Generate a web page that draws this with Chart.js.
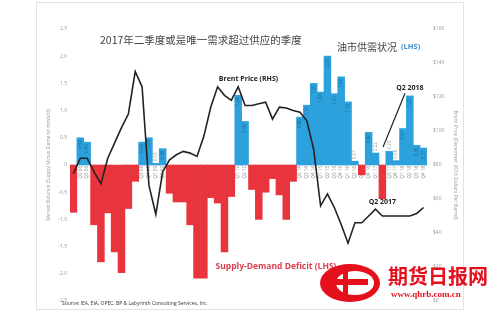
<!DOCTYPE html>
<html>
<head>
<meta charset="utf-8">
<script src="https://cdn.jsdelivr.net/npm/chart.js@4.4.1/dist/chart.umd.min.js"></script>
<style>
  html, body { margin: 0; padding: 0; background: #fff; }
  #wrap { width: 500px; height: 312px; }
</style>
</head>
<body>
<div id="wrap"><canvas id="chart" width="500" height="312"></canvas></div>
<script>
// quarters Q1 2006 .. Q4 2018
var quarters = [
  'Q1 06','Q2 06','Q3 06','Q4 06','Q1 07','Q2 07','Q3 07','Q4 07',
  'Q1 08','Q2 08','Q3 08','Q4 08','Q1 09','Q2 09','Q3 09','Q4 09',
  'Q1 10','Q2 10','Q3 10','Q4 10','Q1 11','Q2 11','Q3 11','Q4 11',
  'Q1 12','Q2 12','Q3 12','Q4 12','Q1 13','Q2 13','Q3 13','Q4 13',
  'Q1 14','Q2 14','Q3 14','Q4 14','Q1 15','Q2 15','Q3 15','Q4 15',
  'Q1 16','Q2 16','Q3 16','Q4 16','Q1 17','Q2 17','Q3 17','Q4 17',
  'Q1 18','Q2 18','Q3 18','Q4 18'
];

// market balance, supply minus demand (mmb/d), left axis
var balance = [
  -0.87, 0.50, 0.42, -1.10, -1.78, -0.88, -1.60, -1.98, -0.80, -0.30,
  0.42, 0.50, 0.03, 0.30, -0.52, -0.68, -0.68, -1.10, -2.08, -2.08,
  -0.60, -0.70, -1.60, -0.58, 1.28, 0.80, -0.45, -1.00, -0.50, -0.25,
  -0.55, -1.00, -0.30, 0.88, 1.10, 1.50, 1.34, 2.00, 1.31, 1.62,
  1.16, 0.07, -0.18, 0.60, 0.22, -0.62, 0.25, 0.08, 0.67, 1.27,
  0.36, 0.31
];

// Brent price, Dec 2016 dollars, right axis
var brent = [
  75, 84, 84, 76, 69, 84, 93, 102, 110, 135,
  126, 68, 51, 76, 83, 86, 88, 87, 85, 97,
  114, 126, 121, 118, 126, 115, 115, 116, 117, 107,
  114, 113.5, 112, 111, 106, 89, 56, 63, 55, 45,
  34, 46, 46, 50, 54, 50, 50, 50, 50, 50,
  51.5, 55
];

var leftTicks = [-2.5, -2, -1.5, -1, -0.5, 0, 0.5, 1, 1.5, 2, 2.5];
var rightTicks = [0, 20, 40, 60, 80, 100, 120, 140, 160];

var BLUE = '#2ca1db';
var RED = '#e8353d';
var LATIN = '"Open Sans", "DejaVu Sans", sans-serif';
var CJK = '"Noto Sans CJK SC", sans-serif';

var extras = {
  id: 'extras',
  beforeDraw: function (chart) {
    var c = chart.ctx;
    c.save();
    c.fillStyle = '#fff';
    c.fillRect(0, 0, chart.width, chart.height);
    c.strokeStyle = '#e2e2e2';
    c.lineWidth = 1;
    c.strokeRect(36.5, 2.5, 427, 307);
    c.restore();
  },
  afterDatasetDraw: function (chart, args) {
    if (args.index !== 0) return;
    var c = chart.ctx;
    c.save();
    c.font = '4.5px ' + LATIN;
    c.textBaseline = 'middle';
    args.meta.data.forEach(function (bar, i) {
      var v = balance[i];
      if (v <= 0) return;
      var h = bar.base - bar.y;
      var inside = h > 16;
      c.save();
      c.translate(bar.x, inside ? bar.y + 2 : bar.y - 2);
      c.rotate(-Math.PI / 2);
      c.textAlign = inside ? 'right' : 'left';
      c.fillStyle = inside ? '#1b6594' : '#999';
      c.fillText(v.toFixed(2), 0, 0);
      c.restore();
    });
    c.restore();
  },
  afterDraw: function (chart) {
    var c = chart.ctx;
    var x = chart.scales.x, y = chart.scales.y, y1 = chart.scales.y1;
    c.save();
    c.textBaseline = 'middle';

    // titles
    c.fillStyle = '#444';
    c.font = '10.5px ' + CJK;
    c.textAlign = 'left';
    c.fillText('2017年二季度或是唯一需求超过供应的季度', 100, 40);
    c.font = '10px ' + CJK;
    c.fillText('油市供需状况', 337, 47);
    c.fillStyle = '#3b8fd0';
    c.font = 'bold 7.5px ' + LATIN;
    c.fillText('(LHS)', 401, 47);

    // annotations
    c.fillStyle = '#222';
    c.font = 'bold 7px ' + LATIN;
    c.textAlign = 'center';
    c.fillText('Brent Price (RHS)', x.getPixelForValue(25.5), y.getPixelForValue(1.58));
    c.fillText('Q2 2017', x.getPixelForValue(45), y1.getPixelForValue(58));
    c.fillText('Q2 2018', x.getPixelForValue(49), y.getPixelForValue(1.42));
    c.strokeStyle = '#222';
    c.lineWidth = 1.2;
    c.beginPath();
    c.moveTo(x.getPixelForValue(48.3), y.getPixelForValue(1.32));
    c.lineTo(x.getPixelForValue(45.1), y.getPixelForValue(0.33));
    c.stroke();

    c.fillStyle = '#d9404f';
    c.font = 'bold 8.5px ' + LATIN;
    c.textAlign = 'center';
    c.fillText('Supply-Demand Deficit (LHS)', 276, 267);

    c.fillStyle = '#333';
    c.font = '5px ' + LATIN;
    c.textAlign = 'left';
    c.fillText('Source: IEA, EIA, OPEC, BP & Labyrinth Consulting Services, Inc.', 62, 304);

    // watermark
    c.fillStyle = '#e60f1c';
    c.beginPath();
    c.ellipse(350, 283, 30, 19, 0, 0, Math.PI * 2);
    c.fill();
    c.fillStyle = '#fff';
    c.beginPath();
    c.ellipse(355, 283, 19, 12, 0, 0, Math.PI * 2);
    c.fill();
    c.fillStyle = '#e60f1c';
    c.fillRect(332, 279, 36, 6);
    c.fillRect(343, 270, 5, 26);
    c.font = 'bold 20px ' + CJK;
    c.textAlign = 'left';
    c.fillText('期货日报网', 388, 276);
    c.font = 'bold 9px "Liberation Serif", "DejaVu Serif", serif';
    c.fillText('www.qhrb.com.cn', 391, 295);
    c.restore();
  }
};

var chart = new Chart(document.getElementById('chart').getContext('2d'), {
  data: {
    labels: quarters,
    datasets: [
      {
        type: 'bar',
        label: 'Market balance',
        data: balance,
        yAxisID: 'y',
        order: 2,
        backgroundColor: balance.map(function (v) { return v >= 0 ? BLUE : RED; }),
        borderWidth: 0,
        barPercentage: 1,
        categoryPercentage: 1
      },
      {
        type: 'line',
        label: 'Brent Price',
        data: brent,
        yAxisID: 'y1',
        order: 1,
        borderColor: '#222',
        borderWidth: 1.6,
        pointRadius: 0,
        tension: 0,
        fill: false
      }
    ]
  },
  options: {
    responsive: false,
    animation: false,
    layout: { padding: { top: 29, bottom: 11, left: 44, right: 40 } },
    plugins: {
      legend: { display: false },
      tooltip: { enabled: false }
    },
    scales: {
      x: {
        type: 'category',
        position: { y: 0 },
        z: 1,
        offset: true,
        grid: { display: false, drawTicks: false },
        border: { display: false },
        ticks: {
          autoSkip: false,
          minRotation: 90,
          maxRotation: 90,
          padding: 1,
          color: '#8a8a8a',
          font: { size: 4.5, family: LATIN }
        }
      },
      y: {
        position: 'left',
        min: -2.5,
        max: 2.5,
        afterBuildTicks: function (s) { s.ticks = leftTicks.map(function (v) { return { value: v }; }); },
        afterFit: function (s) { s.width = 26; },
        grid: { display: false, drawTicks: false },
        border: { display: false },
        ticks: { padding: 3, color: '#999', font: { size: 5, family: LATIN } },
        title: {
          display: true,
          text: 'Market Balance (Supply Minus Demand mmb/d)',
          color: '#999',
          padding: { top: 2, bottom: 0 },
          font: { size: 5, family: LATIN }
        }
      },
      y1: {
        position: 'right',
        min: 0,
        max: 160,
        afterBuildTicks: function (s) { s.ticks = rightTicks.map(function (v) { return { value: v }; }); },
        afterFit: function (s) { s.width = 33; },
        grid: { display: false, drawTicks: false },
        border: { display: false },
        ticks: {
          padding: 6,
          color: '#999',
          font: { size: 5, family: LATIN },
          callback: function (v) { return '$' + v; }
        },
        title: {
          display: true,
          text: 'Brent Price (December 2016 Dollars Per Barrel)',
          color: '#999',
          padding: { top: 2, bottom: 0 },
          font: { size: 5, family: LATIN }
        }
      }
    }
  },
  plugins: [extras]
});
</script>
</body>
</html>
